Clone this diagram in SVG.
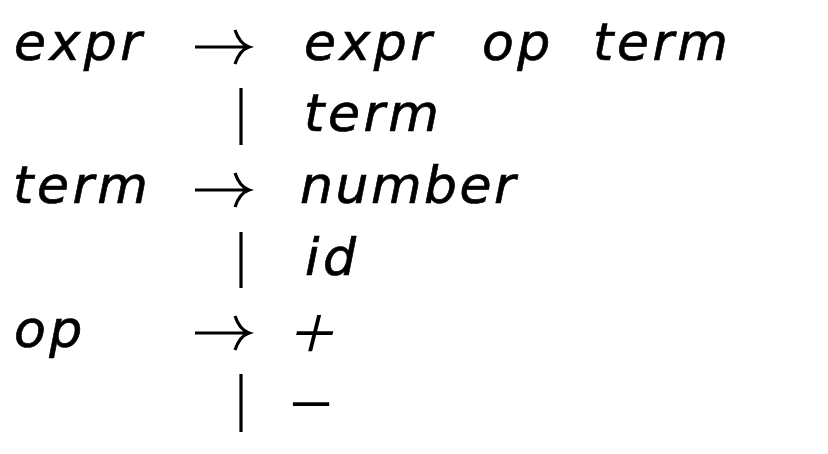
<svg xmlns="http://www.w3.org/2000/svg" width="828" height="454" viewBox="0 0 828 454">
<style>
.t{font-family:"DejaVu Sans",sans-serif;font-style:italic;font-size:52px;letter-spacing:3.5px;fill:#000;stroke:#000;stroke-width:0.7}
.m{font-family:"Liberation Serif",serif;font-size:78px;text-anchor:middle;fill:#000}
.s{fill:none;stroke:#000;stroke-width:3.2;stroke-linecap:butt}
</style>
<defs>
<path id="arr" class="s" d="M0,0 H53 M40,-17 C43,-8 48,-2 54,0 C48,2 43,8 40,17"/>
</defs>
<rect width="828" height="454" fill="#fff"/>
<g id="rule-expr">
<text class="t" x="14" y="60">expr</text>
<use href="#arr" x="195" y="47"/>
<text class="t" x="304" y="60">expr</text>
<text class="t" x="482" y="60">op</text>
<text class="t" x="593" y="60">term</text>
<line class="s" x1="241" y1="88" x2="241" y2="145"/>
<text class="t" x="304" y="131">term</text>
</g>
<g id="rule-term">
<text class="t" x="13" y="203">term</text>
<use href="#arr" x="195" y="190"/>
<text class="t" x="300" y="203" style="letter-spacing:2.5px">number</text>
<line class="s" x1="241" y1="232" x2="241" y2="288"/>
<text class="t" x="305" y="275">id</text>
</g>
<g id="rule-op">
<text class="t" x="14" y="347">op</text>
<use href="#arr" x="195" y="333"/>
<text class="m" x="315" y="359" transform="translate(315,332) skewX(-14) translate(-315,-332)">+</text>
<line class="s" x1="241" y1="374" x2="241" y2="432"/>
<text class="m" x="311" y="430">−</text>
</g>
</svg>
